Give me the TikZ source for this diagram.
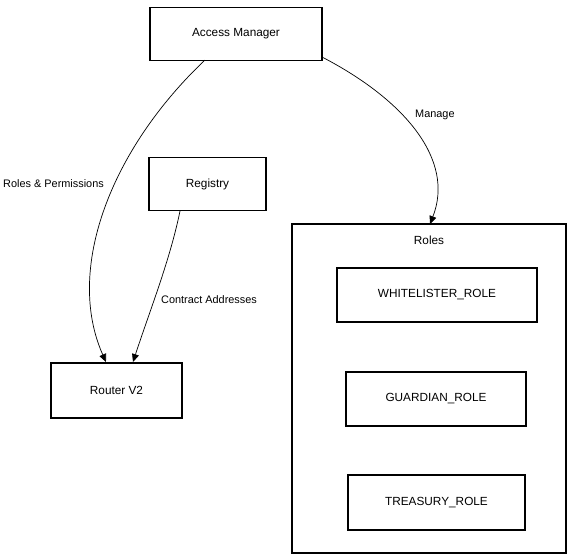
\documentclass[tikz,border=0pt]{standalone}
\usepackage{fontspec}
\setmainfont{Liberation Sans}
\usetikzlibrary{arrows.meta}

\begin{document}
\begin{tikzpicture}[x=1pt,y=-1pt,>={Triangle[length=8pt,width=7pt]},font=\fontsize{11.8}{13}\selectfont,
  box/.style={draw,line width=1.6pt,minimum height=53pt,inner sep=0pt},
  link/.style={->,line width=0.7pt},
  lbl/.style={font=\fontsize{10.9}{12}\selectfont,inner sep=1pt}]
\useasboundingbox (0,0) rectangle (567,558);
% top and left blocks
\node[box,minimum width=172pt] (access) at (236,34) {Access Manager};
\node[box,minimum width=117pt] (registry) at (207.5,184) {Registry};
\node[box,minimum width=131pt,minimum height=55pt] (router) at (116.5,390.5) {Router V2};
% roles group
\node[draw,line width=1.3pt,minimum width=274pt,minimum height=329pt,inner sep=0pt] (roles) at (429,388.5) {};
\node (rolestitle) at (429,240) {Roles};
\node[box,minimum width=200pt,minimum height=54pt] (whitelister) at (437,295) {WHITELISTER\_ROLE};
\node[box,minimum width=180pt,minimum height=54pt] (guardian) at (436,399) {GUARDIAN\_ROLE};
\node[box,minimum width=177pt,minimum height=55pt] (treasury) at (436.5,502.5) {TREASURY\_ROLE};
% connectors
\coordinate (am1) at (205,60);
\coordinate (am2) at (322,57);
\coordinate (rt1) at (106,362);
\coordinate (rt2) at (133,362);
\coordinate (rg1) at (180,211);
\coordinate (rl1) at (430,224);
\draw[link] (am1) .. controls (110,150) and (65,270) .. (rt1);
\draw[link] (rg1) .. controls (170,260) and (150,310) .. (rt2);
\draw[link] (am2) .. controls (405,100) and (455,160) .. (rl1);
\node[lbl,anchor=east] (lblperm) at (105,184) {Roles \& Permissions};
\node[lbl,anchor=west] (lbladdr) at (160,300) {Contract Addresses};
\node[lbl,anchor=west] (lblmanage) at (414,115) {Manage};
\end{tikzpicture}
\end{document}
